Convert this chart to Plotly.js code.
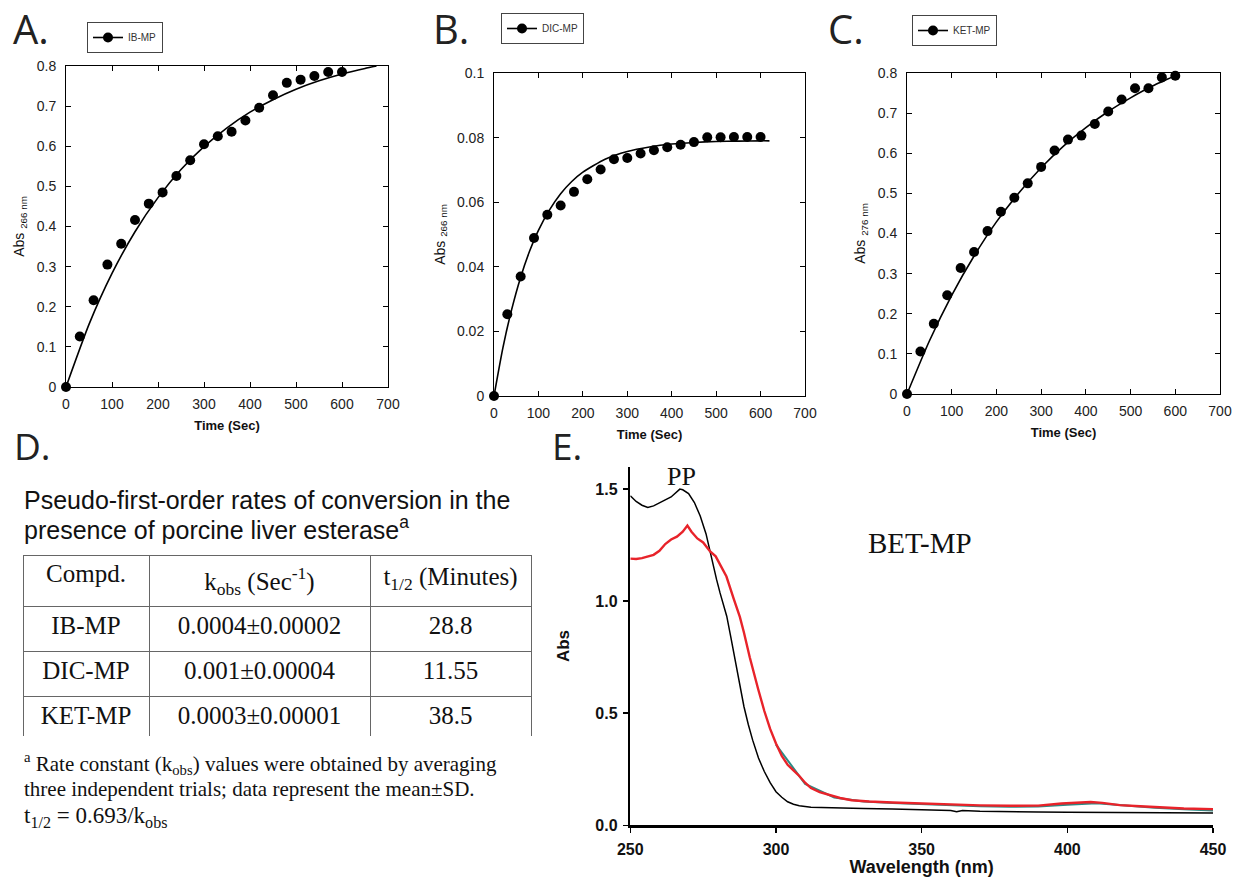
<!DOCTYPE html>
<html>
<head>
<meta charset="utf-8">
<script src="https://cdn.plot.ly/plotly-3.0.1.min.js"></script>
<style>html,body{margin:0;padding:0;background:#fff;}#chart{width:1238px;height:882px;}</style>
</head>
<body>
<div id="chart"></div>
<script>
// ---------- DATA ----------
const timePts = [0,30,60,90,120,150,180,210,240,270,300,330,360,390,420,450,480,510,540,570,600];
const absIB  = [0,0.126,0.216,0.305,0.357,0.416,0.457,0.485,0.526,0.565,0.605,0.625,0.636,0.664,0.696,0.727,0.758,0.766,0.775,0.785,0.785];
const absDIC = [0,0.0253,0.0370,0.0489,0.0561,0.0590,0.0632,0.0671,0.0701,0.0733,0.0737,0.0751,0.0761,0.0770,0.0778,0.0786,0.0801,0.0801,0.0802,0.0802,0.0802];
const absKET = [0,0.106,0.175,0.246,0.314,0.354,0.406,0.454,0.489,0.525,0.566,0.607,0.634,0.644,0.673,0.704,0.734,0.762,0.762,0.789,0.793];

const fitTimeIB = [0,50,100,150,200,250,300,350,400,450,500,550,600,650,675];
const fitIB     = [0,0.156,0.283,0.387,0.472,0.542,0.599,0.646,0.685,0.716,0.742,0.763,0.780,0.794,0.800];
const fitTimeDIC = [0,20,40,60,80,100,125,150,175,200,250,300,350,400,450,500,550,600,620];
const fitDIC     = [0,0.0149,0.0269,0.0368,0.0448,0.0513,0.0576,0.0626,0.0664,0.0693,0.0733,0.0757,0.0771,0.0780,0.0785,0.0788,0.0789,0.0790,0.0790];
const fitTimeKET = [0,50,100,150,200,250,300,350,400,450,500,550,600];
const fitKET     = [0,0.132,0.246,0.344,0.429,0.501,0.564,0.618,0.664,0.704,0.738,0.768,0.793];

const wlPP  = [250,252,254,256,258,260,262,264,266,267,268,270,272,274,276,277.4,278.5,279.6,280.8,282,283.1,284.5,286,287.6,289,290.5,292,294,296,298,300,302,304,306,308,312,320,330,340,350,360,362,364,370,380,390,400,410,420,430,440,450];
const absPP = [1.47,1.445,1.428,1.418,1.425,1.437,1.452,1.465,1.49,1.50,1.497,1.48,1.44,1.38,1.30,1.222,1.15,1.097,1.037,0.98,0.933,0.84,0.74,0.622,0.53,0.45,0.38,0.30,0.24,0.19,0.15,0.125,0.105,0.094,0.087,0.081,0.077,0.075,0.073,0.071,0.066,0.060,0.066,0.063,0.060,0.059,0.058,0.057,0.058,0.057,0.056,0.055];
const wlBET  = [250,252,254,256,258,260,262,264,266,268,269.6,271,273,275,277.4,279.3,281,283,285.5,287.6,289,291,293.9,296,298,300,302,304,306,308,310,312,315,318,322,326,332,340,350,360,370,380,390,398,403,408,412,418,425,433,440,450];
const absBET = [1.19,1.188,1.192,1.198,1.207,1.225,1.255,1.275,1.288,1.31,1.337,1.31,1.28,1.262,1.222,1.20,1.16,1.11,1.01,0.93,0.86,0.75,0.607,0.51,0.43,0.365,0.31,0.27,0.245,0.22,0.19,0.166,0.148,0.136,0.122,0.112,0.106,0.102,0.097,0.093,0.089,0.087,0.088,0.097,0.100,0.104,0.100,0.090,0.085,0.078,0.075,0.072];
const wlBET2  = [300,310,320,330,340,350,360,370,380,390,400,405,410,420,430,440,450];
const absBET2 = [0.36,0.185,0.124,0.106,0.099,0.094,0.089,0.085,0.083,0.084,0.092,0.096,0.098,0.088,0.078,0.072,0.066];

const tableHeaders = ['Compd.','k<sub>obs</sub> (Sec<sup>-1</sup>)','t<sub>1/2</sub> (Minutes)'];
const compounds = ['IB-MP','DIC-MP','KET-MP'];
const kobs = ['0.0004\u00b10.00002','0.001\u00b10.00004','0.0003\u00b10.00001'];
const thalf = ['28.8','11.55','38.5'];

// ---------- helpers ----------
const W = 1238, H = 882;
const px = v => v / W;
const py = v => 1 - v / H;
// points shown as isolated markers, but legend symbol shows line + marker
function isolated(xs, ys) {
  const X = [], Y = [];
  xs.forEach((x, i) => { X.push(x, null); Y.push(ys[i], null); });
  return {X, Y};
}

const sans = 'Liberation Sans, Arial, sans-serif';
const serif = 'Liberation Serif, Times New Roman, serif';

function kinTraces(xs, ys, fx, fy, name, xa, ya, leg) {
  const iso = isolated(xs, ys);
  return [
    {x: fx, y: fy, xaxis: xa, yaxis: ya, type: 'scatter', mode: 'lines',
     line: {color: '#000', width: 1.6, shape: 'spline', smoothing: 0.6}, showlegend: false, hoverinfo: 'skip'},
    {x: iso.X, y: iso.Y, xaxis: xa, yaxis: ya, type: 'scatter', mode: 'lines+markers', name: name,
     connectgaps: false, cliponaxis: false, legend: leg,
     line: {color: '#000', width: 1.6}, marker: {color: '#000', size: 10}}
  ];
}

const traces = [].concat(
  kinTraces(timePts, absIB, fitTimeIB, fitIB, 'IB-MP', 'x', 'y', 'legend'),
  kinTraces(timePts, absDIC, fitTimeDIC, fitDIC, 'DIC-MP', 'x2', 'y2', 'legend2'),
  kinTraces(timePts, absKET, fitTimeKET, fitKET, 'KET-MP', 'x3', 'y3', 'legend3'),
  [
    {x: wlPP, y: absPP, xaxis: 'x4', yaxis: 'y4', type: 'scatter', mode: 'lines',
     line: {color: '#000', width: 1.5}, showlegend: false},
    {x: wlBET2, y: absBET2, xaxis: 'x4', yaxis: 'y4', type: 'scatter', mode: 'lines',
     line: {color: '#2a8c86', width: 2}, showlegend: false},
    {x: wlBET, y: absBET, xaxis: 'x4', yaxis: 'y4', type: 'scatter', mode: 'lines',
     line: {color: '#e8232a', width: 2.4}, showlegend: false},
    {type: 'table',
     domain: {x: [px(23), px(531)], y: [py(737), py(555)]},
     columnwidth: [126, 221, 161],
     header: {values: tableHeaders.map(h => [h]), height: 46, align: 'center',
              line: {color: '#666', width: 1}, fill: {color: '#fff'},
              font: {family: serif, size: 25, color: '#111'}},
     cells: {values: [compounds, kobs, thalf], height: 45, align: 'center',
             line: {color: '#666', width: 1}, fill: {color: '#fff'},
             font: {family: serif, size: 25, color: '#111'}}}
  ]
);

function kinX(d0, d1, anchor) {
  return {domain: [px(d0), px(d1)], anchor: anchor, range: [0, 700], dtick: 100, tick0: 0,
    showline: true, mirror: 'ticks', linecolor: '#000', linewidth: 1,
    ticks: 'inside', ticklen: 5, tickwidth: 1, tickcolor: '#000',
    ticklabelstandoff: 4,
    showgrid: false, zeroline: false,
    tickfont: {family: sans, size: 14, color: '#222'},
    title: {text: 'Time (Sec)', standoff: 10, font: {family: sans, size: 13, color: '#111', weight: 'bold'}}};
}
function kinY(d0, d1, anchor, top, dt, sub) {
  return {domain: [py(d1), py(d0)], anchor: anchor, range: [0, top], dtick: dt, tick0: 0,
    showline: true, mirror: 'ticks', linecolor: '#000', linewidth: 1,
    ticks: 'inside', ticklen: 5, tickwidth: 1, tickcolor: '#000',
    ticklabelstandoff: 6,
    showgrid: false, zeroline: false,
    tickfont: {family: sans, size: 14, color: '#222'},
    title: {text: 'Abs <sub>' + sub + '</sub>', standoff: 8, font: {family: sans, size: 14, color: '#111'}}};
}

function legendAt(x, y) {
  return {x: px(x), y: py(y), xanchor: 'left', yanchor: 'top', bgcolor: '#fff',
    bordercolor: '#444', borderwidth: 1, itemwidth: 30,
    font: {family: sans, size: 10, color: '#333'}, tracegroupgap: 0};
}

function letter(t, x, y, size) {
  return {text: t, xref: 'paper', yref: 'paper', x: px(x), y: py(y), xanchor: 'left', yanchor: 'middle',
    showarrow: false, font: {family: 'Open Sans, Noto Sans, sans-serif', size: size, color: '#222'}};
}
function note(t, x, y, size, family, anchor) {
  return {text: t, xref: 'paper', yref: 'paper', x: px(x), y: py(y), xanchor: anchor || 'left', yanchor: 'middle',
    showarrow: false, align: 'left', borderpad: 0, font: {family: family, size: size, color: '#111'}};
}

const layout = {
  width: W, height: H, margin: {l: 0, r: 0, t: 0, b: 0},
  paper_bgcolor: '#fff', plot_bgcolor: '#fff', showlegend: true,
  xaxis: kinX(66, 388, 'y'),
  yaxis: kinY(66, 387, 'x', 0.8, 0.1, '266 nm'),
  xaxis2: kinX(494, 805, 'y2'),
  yaxis2: kinY(73, 396, 'x2', 0.1, 0.02, '266 nm'),
  xaxis3: kinX(907, 1220, 'y3'),
  yaxis3: kinY(73, 394, 'x3', 0.8, 0.1, '276 nm'),
  xaxis4: {domain: [px(630.3), px(1213)], anchor: 'y4', range: [250, 450], dtick: 50, tick0: 250,
    showline: true, linecolor: '#000', linewidth: 3, ticks: 'outside', ticklen: 5, tickwidth: 1.5, tickcolor: '#000',
    showgrid: false, zeroline: false, ticklabelstandoff: 2,
    tickfont: {family: sans, size: 16, color: '#111', weight: 'bold'},
    title: {text: 'Wavelength (nm)', standoff: 4, font: {family: sans, size: 18, color: '#111', weight: 'bold'}}},
  yaxis4: {domain: [py(825.3), py(466.7)], anchor: 'x4', range: [0, 1.6], dtick: 0.5, tick0: 0, tickformat: '.1f',
    showline: true, linecolor: '#000', linewidth: 2.5, ticks: 'outside', ticklen: 5, tickwidth: 1.5, tickcolor: '#000',
    showgrid: false, zeroline: false, ticklabelstandoff: 2,
    tickfont: {family: sans, size: 16, color: '#111', weight: 'bold'},
    title: {text: 'Abs', standoff: 22, font: {family: sans, size: 17, color: '#111', weight: 'bold'}}},
  legend: legendAt(87, 22),
  legend2: legendAt(501, 13),
  legend3: legendAt(912, 15),
  annotations: [
    letter('A.', 11, 28, 40),
    letter('B.', 431, 29, 40),
    letter('C.', 826, 29, 40),
    letter('D.', 12, 445, 37),
    letter('E.', 550, 445, 37),
    note('Pseudo-first-order rates of conversion in the', 23, 500, 25, sans),
    note('presence of porcine liver esterase<sup>a</sup>', 23, 528, 25, sans),
    note('<sup>a</sup> Rate constant (k<sub>obs</sub>) values were obtained by averaging', 23, 763, 21, serif),
    note('three independent trials; data represent the mean\u00b1SD.', 23, 789, 21, serif),
    note('t<sub>1/2</sub> = 0.693/k<sub>obs</sub>', 23, 817, 23, serif),
    note('PP', 681, 476, 26, serif, 'center'),
    note('BET-MP', 920, 543, 29, serif, 'center')
  ]
};

Plotly.newPlot('chart', traces, layout, {staticPlot: true, displayModeBar: false});
</script>
</body>
</html>
